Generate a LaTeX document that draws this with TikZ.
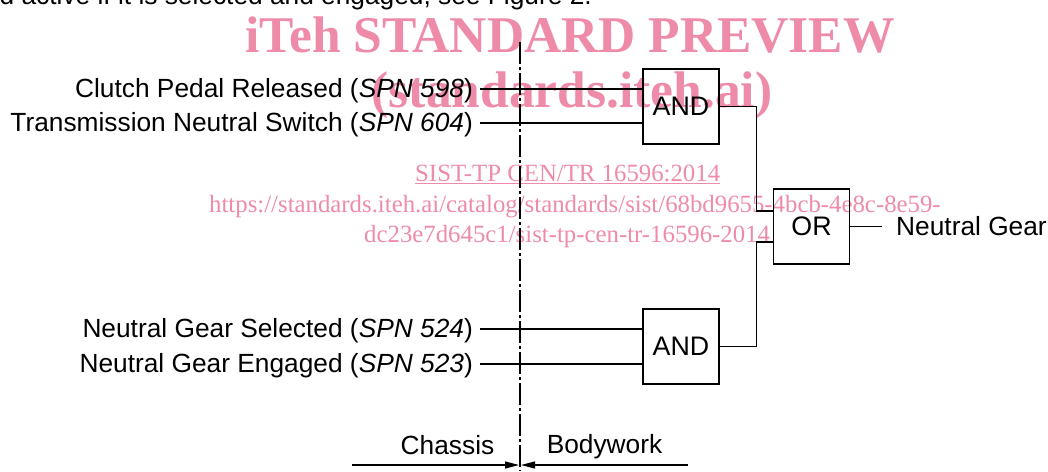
\documentclass[tikz,border=0pt]{standalone}
\usepackage{fontspec}
\setmainfont{Liberation Sans}
\newfontfamily\wmfont{Liberation Serif}
\usetikzlibrary{arrows.meta}
\definecolor{wmpink}{RGB}{238,139,168}
\begin{document}
\begin{tikzpicture}[x=1pt,y=-1pt,
  txt/.style={inner sep=0pt,font=\fontsize{26.3}{30}\selectfont},
  wmbig/.style={inner sep=0pt,text=wmpink,font=\wmfont\bfseries\fontsize{51.5}{56}\selectfont},
  wmsmall/.style={inner sep=0pt,text=wmpink,font=\wmfont\fontsize{24.8}{28}\selectfont},
  gate/.style={draw,line width=1.2pt,minimum width=76pt,minimum height=75pt,inner sep=0pt,font=\fontsize{26.8}{30}\selectfont},
  wire/.style={line width=1.25pt},
  divline/.style={line width=1.1pt,dash pattern=on 22pt off 3pt on 3pt off 3pt},
  dimarrow/.style={line width=1.2pt,-{Triangle[length=14pt,width=7pt]}}]
\useasboundingbox (0,0) rectangle (1048,471);
% watermark (behind)
\node[wmbig,anchor=base] (wm1) at (570,52) {iTeh STANDARD PREVIEW};
\node[wmbig,anchor=base] (wm2) at (572,107) {(standards.iteh.ai)};
\node[wmsmall,anchor=base west] (wm3) at (415,181) {\underline{SIST-TP CEN/TR 16596:2014}};
\node[wmsmall,anchor=base west] (wm4) at (209,212) {https://standards.iteh.ai/catalog/standards/sist/68bd9655-4bcb-4e8c-8e59-};
\node[wmsmall,anchor=base west] (wm5) at (364,242) {dc23e7d645c1/sist-tp-cen-tr-16596-2014};
% top text
\node[txt,anchor=base east] (top) at (592,5) {d active if it is selected and engaged, see Figure 2.};
% divider
\coordinate (dtop) at (520,42);
\coordinate (dbot) at (520,471);
\draw[divline] (dtop) -- (dbot);
% labels
\node[txt,anchor=base east] (l1) at (473,97) {Clutch Pedal Released (\textit{SPN 598})};
\node[txt,anchor=base east] (l2) at (473,131) {Transmission Neutral Switch (\textit{SPN 604})};
\node[txt,anchor=base east] (l3) at (473,337) {Neutral Gear Selected (\textit{SPN 524})};
\node[txt,anchor=base east] (l4) at (473,372) {Neutral Gear Engaged (\textit{SPN 523})};
% gates
\node[gate] (and1) at (681,106.5) {AND};
\node[gate] (or) at (811.5,226.5) {OR};
\node[gate] (and2) at (681,346.5) {AND};
% inputs
\coordinate (i1) at (480,89);
\coordinate (i2) at (480,123);
\coordinate (i3) at (480,329);
\coordinate (i4) at (480,364);
\draw[wire] (i1) -- (i1 -| and1.west);
\draw[wire] (i2) -- (i2 -| and1.west);
\draw[wire] (i3) -- (i3 -| and2.west);
\draw[wire] (i4) -- (i4 -| and2.west);
% gate connections
\coordinate (or1) at ([yshift=15.5pt]or.west);
\coordinate (or2) at ([yshift=-15.5pt]or.west);
\draw[wire] (and1.east) -- ++(37,0) |- (or1);
\draw[wire] (and2.east) -- ++(37,0) |- (or2);
\coordinate (oout) at ([xshift=32pt]or.east);
\draw[wire] (or.east) -- (oout);
\node[txt,anchor=base west] (ng) at (896,235.5) {Neutral Gear};
% chassis / bodywork
\node[txt,anchor=base] (ch) at (447.5,454) {Chassis};
\node[txt,anchor=base] (bw) at (604.5,453) {Bodywork};
\coordinate (al) at (352,465);
\coordinate (alt) at (519,465);
\coordinate (ar) at (688,465);
\coordinate (art) at (521,465);
\draw[dimarrow] (al) -- (alt);
\draw[dimarrow] (ar) -- (art);
\end{tikzpicture}
\end{document}
